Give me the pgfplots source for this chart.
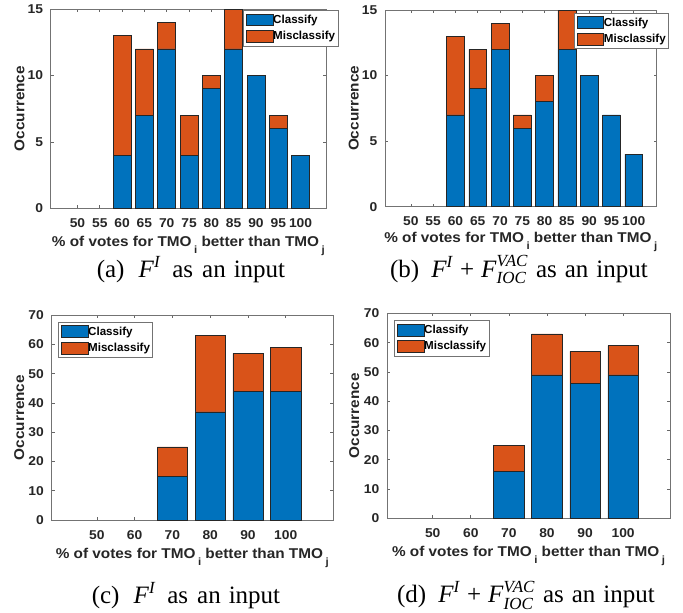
\documentclass[border=0pt]{standalone}
\usepackage{fontspec}
\setmainfont{Liberation Sans}
\newfontfamily\axfont[FakeStretch=1.08]{Liberation Sans}
\newfontfamily\timesfont{Liberation Serif}
\usepackage{pgfplots}
\pgfplotsset{compat=1.18}
\definecolor{mblue}{RGB}{0,114,189}
\definecolor{morange}{RGB}{217,83,25}
\newcommand\capfont{\timesfont\fontsize{25}{30}\selectfont}
\newcommand\sub[1]{\hspace{2.5pt}\raisebox{-6.5pt}{\fontsize{10.5}{11}\selectfont #1}}
\newcommand\FI{\textit{F}\raisebox{10pt}{\fontsize{17}{17}\selectfont\textit{I}}}
\newcommand\FVAC{\textit{F}\rlap{\raisebox{10.5pt}{\fontsize{17}{17}\selectfont\textit{VAC}}}\raisebox{-6.5pt}{\fontsize{17}{17}\selectfont\textit{IOC}}}
\pgfplotsset{
  mstyle/.style={
    scale only axis, anchor=south west,
    ybar stacked,
    axis line style={black!55, line width=0.6pt},
    tick style={black!60, line width=0.6pt},
    major tick length=3pt,
    tick align=inside,
    ymin=0,
    /pgf/number format/assume math mode=true,
    tick label style={font=\axfont\bfseries\fontsize{12.8}{14}\selectfont, text=black!85},
    xticklabel style={anchor=base, yshift=-19pt},
    yticklabel style={anchor=east, inner sep=0pt, xshift=-7.5pt},
    label style={font=\axfont\bfseries\fontsize{14.2}{16}\selectfont, text=black!85},
    ylabel={Occurrence},
    xlabel={\% of votes for TMO\sub{i} better than TMO\sub{j}},
    xlabel style={at={(axis description cs:0.5,0)}, anchor=base, yshift=-38.5pt},
    legend style={draw=black!55, line width=0.6pt, inner xsep=2.7pt, inner ysep=3.4pt,
      font=\bfseries\fontsize{11.6}{13}\selectfont, anchor=north west, row sep=4.1pt,
      nodes={inner sep=0pt}, cells={anchor=west},
      /tikz/every even column/.append style={column sep=2.2pt}},
    legend cell align=left,
  },
  bstyle/.style={fill=mblue, draw=black!85, line width=0.6pt,
    legend image code/.code={\draw[fill=mblue, draw=black!85, line width=0.6pt] (0pt,-5.9pt) rectangle (26.3pt,5.9pt);}},
  ostyle/.style={fill=morange, draw=black!85, line width=0.6pt,
    legend image code/.code={\draw[fill=morange, draw=black!85, line width=0.6pt] (0pt,-5.9pt) rectangle (26.3pt,5.9pt);}},
}
\begin{document}
\begin{tikzpicture}
\useasboundingbox (0pt,0pt) rectangle (683pt,-613pt);
% (a)
\begin{axis}[mstyle, at={(50.7pt,-208.3pt)}, width=275.3pt, height=199.3pt,
  xmin=44, xmax=105.7, ymax=15, bar width=4,
  xtick={50,55,...,100}, ytick={0,5,10,15},
  ylabel style={at={(axis description cs:-0.113,0.5)}, anchor=center},
  legend style={at={(axis description cs:0.6996,0.995)}}]
\addplot[bstyle] coordinates {(60,4) (65,7) (70,12) (75,4) (80,9) (85,12) (90,10) (95,6) (100,4)};
\addplot[ostyle] coordinates {(60,9) (65,5) (70,2) (75,3) (80,1) (85,3) (90,0) (95,1) (100,0)};
\legend{Classify,Misclassify}
\end{axis}
% (b)
\begin{axis}[mstyle, at={(385pt,-206.7pt)}, width=271.5pt, height=196.7pt,
  xmin=44.2, xmax=105.1, ymax=15, bar width=4,
  xtick={50,55,...,100}, ytick={0,5,10,15},
  xlabel style={yshift=2.5pt},
  ylabel style={at={(axis description cs:-0.115,0.5)}, anchor=center},
  legend style={at={(axis description cs:0.696,0.986)}}]
\addplot[bstyle] coordinates {(60,7) (65,9) (70,12) (75,6) (80,8) (85,12) (90,10) (95,7) (100,4)};
\addplot[ostyle] coordinates {(60,6) (65,3) (70,2) (75,1) (80,2) (85,3) (90,0) (95,0) (100,0)};
\legend{Classify,Misclassify}
\end{axis}
% (c)
\begin{axis}[mstyle, at={(51.5pt,-520pt)}, width=281.5pt, height=204.7pt,
  xmin=38, xmax=112.5, ymax=70, bar width=8,
  xtick={50,60,...,100}, ytick={0,10,...,70},
  ylabel style={at={(axis description cs:-0.115,0.5)}, anchor=center},
  legend style={at={(axis description cs:0.024,0.969)}}]
\addplot[bstyle] coordinates {(70,15) (80,37) (90,44) (100,44)};
\addplot[ostyle] coordinates {(70,10) (80,26) (90,13) (100,15)};
\legend{Classify,Misclassify}
\end{axis}
% (d)
\begin{axis}[mstyle, at={(387pt,-518.3pt)}, width=283pt, height=205pt,
  xmin=38, xmax=112.3, ymax=70, bar width=8,
  xtick={50,60,...,100}, ytick={0,10,...,70},
  ylabel style={at={(axis description cs:-0.116,0.5)}, anchor=center},
  legend style={at={(axis description cs:0.0258,0.967)}}]
\addplot[bstyle] coordinates {(70,16) (80,49) (90,46) (100,49)};
\addplot[ostyle] coordinates {(70,9) (80,14) (90,11) (100,10)};
\legend{Classify,Misclassify}
\end{axis}
% captions
\node[anchor=base, inner sep=0pt] at (191pt,-277pt)
  {\capfont (a)\hspace{14pt}\FI\hspace{12pt}as\hspace{9pt}an\hspace{8pt}input};
\node[anchor=base, inner sep=0pt] at (519pt,-277pt)
  {\capfont (b)\hspace{12pt}\FI\hspace{7pt}+\hspace{7pt}\FVAC\hspace{10pt}as\hspace{8pt}an\hspace{8pt}input};
\node[anchor=base, inner sep=0pt] at (186pt,-603pt)
  {\capfont (c)\hspace{14pt}\FI\hspace{12pt}as\hspace{9pt}an\hspace{8pt}input};
\node[anchor=base, inner sep=0pt] at (526pt,-602.5pt)
  {\capfont (d)\hspace{12pt}\FI\hspace{7pt}+\hspace{7pt}\FVAC\hspace{10pt}as\hspace{8pt}an\hspace{8pt}input};
\end{tikzpicture}
\end{document}
